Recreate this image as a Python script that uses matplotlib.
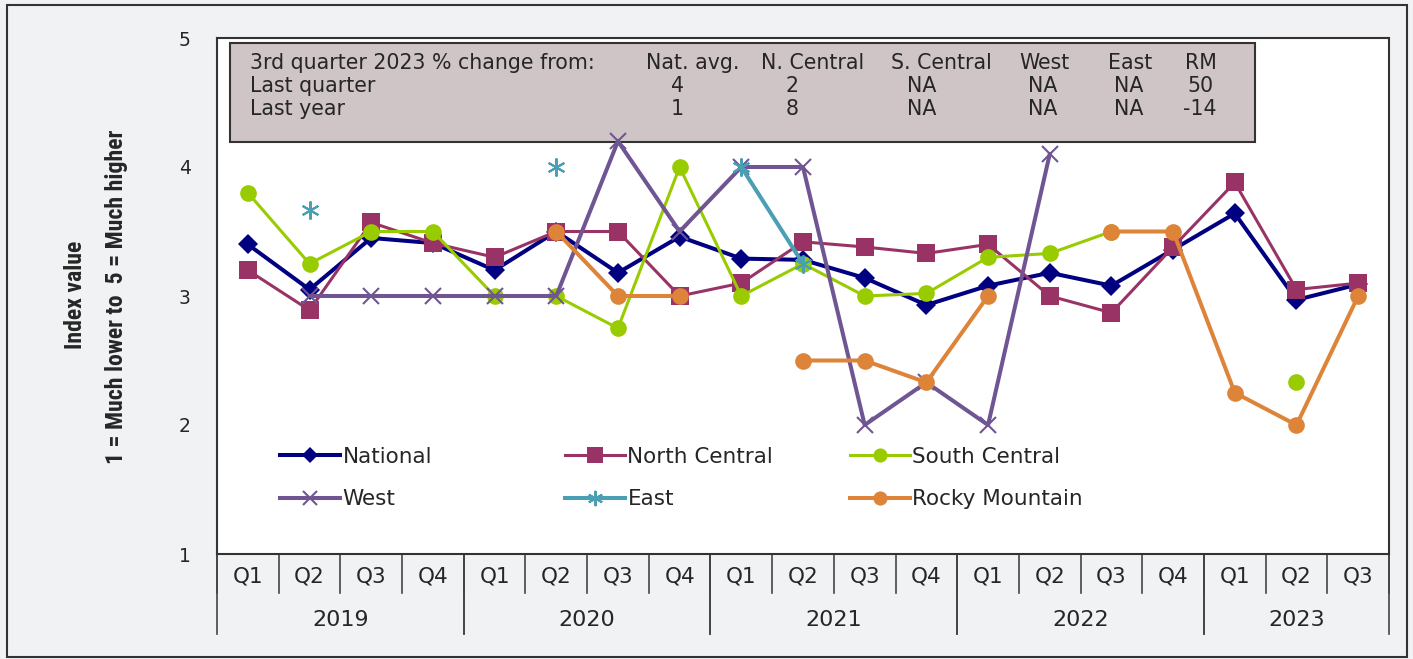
import os
import numpy as np
import matplotlib
matplotlib.use("Agg")
import matplotlib.pyplot as plt
from matplotlib import font_manager
from matplotlib.font_manager import FontProperties
from matplotlib.patches import Rectangle
from matplotlib.transforms import blended_transform_factory

nan = np.nan

# data
years = ['2019', '2020', '2021', '2022', '2023']
quarters_per_year = [4, 4, 4, 4, 3]
quarters = ['Q1', 'Q2', 'Q3', 'Q4'] * 4 + ['Q1', 'Q2', 'Q3']

national = [3.40, 3.05, 3.45, 3.41, 3.20, 3.50, 3.18, 3.46, 3.29, 3.28,
            3.14, 2.93, 3.08, 3.18, 3.08, 3.36, 3.64, 2.97, 3.09]
north_central = [3.20, 2.89, 3.57, 3.41, 3.30, 3.50, 3.50, 3.00, 3.10, 3.42,
                 3.38, 3.33, 3.40, 3.00, 2.87, 3.38, 3.88, 3.05, 3.10]
south_central = [3.80, 3.25, 3.50, 3.50, 3.00, 3.00, 2.75, 4.00, 3.00, 3.25,
                 3.00, 3.02, 3.30, 3.33, 3.50, nan, nan, 2.33, nan]
west = [nan, 3.00, 3.00, 3.00, 3.00, 3.00, 4.20, 3.50, 4.00, 4.00,
        2.00, 2.33, 2.00, 4.10, nan, nan, nan, nan, nan]
east = [nan, 3.67, nan, nan, nan, 4.00, nan, nan, 4.00, 3.25,
        nan, nan, nan, nan, nan, nan, nan, nan, nan]
rocky_mountain = [nan, nan, nan, nan, nan, 3.50, 3.00, 3.00, nan, 2.50,
                  2.50, 2.33, 3.00, nan, 3.50, 3.50, 2.25, 2.00, 3.00]

table_title = '3rd quarter 2023 % change from:'
table_cols = ['Nat. avg.', 'N. Central', 'S. Central', 'West', 'East', 'RM']
table_rows = ['Last quarter', 'Last year']
table_vals = [['4', '2', 'NA', 'NA', 'NA', '50'],
              ['1', '8', 'NA', 'NA', 'NA', '-14']]

# fonts: look for a narrow bold face for the y title
plt.rcParams['font.family'] = 'DejaVu Sans'
files = set(font_manager.findSystemFonts()) | {f.fname for f in font_manager.fontManager.ttflist}
narrow_path = None
for f in sorted(files):
    b = os.path.basename(f).lower()
    if ('narrow' in b or 'condensed' in b) and 'bold' in b and 'italic' not in b \
            and 'oblique' not in b and 'semi' not in b and 'extra' not in b:
        narrow_path = f
        if 'liberation' in b:
            break
if narrow_path:
    ytitle_font = FontProperties(fname=narrow_path)
else:
    ytitle_font = FontProperties(family='Liberation Sans', weight='bold')
txt = '#262626'

W, H = 1413, 659
fig = plt.figure(figsize=(W / 100, H / 100), dpi=100, facecolor='#f1f2f4')
ax = fig.add_axes([217 / W, 1 - 554 / H, (1389 - 217) / W, (554 - 38) / H])
ax.set_facecolor('white')

def ax_xy(px, py):
    return (px - 217) / 1172, (554 - py) / 516

x = np.arange(len(quarters))
series = [
    ('National', national, '#000080', 'D', 10, 2.9),
    ('North Central', north_central, '#993366', 's', 13, 2.2),
    ('South Central', south_central, '#99cc00', 'o', 12, 2.2),
    ('West', west, '#705593', 'x', 12, 2.9),
    ('East', east, '#4a9fb5', (6, 2, 0), 13, 2.9),
    ('Rocky Mountain', rocky_mountain, '#dd8439', 'o', 12, 2.9),
]
handles = {}
for i, (name, vals, col, mk, ms, lw) in enumerate(series):
    thin = mk == 'x' or isinstance(mk, tuple)
    ln, = ax.plot(x, vals, color=col, lw=lw, marker=mk, ms=ms,
                  mew=1.5 if thin else 0, mec=col, mfc=col, zorder=3 + i,
                  label=name)
    handles[name] = ln

ax.set_xlim(-0.5, len(quarters) - 0.5)
ax.set_ylim(1, 5)
ax.set_yticks([1, 2, 3, 4, 5])
ax.tick_params(axis='y', length=0, pad=19, labelsize=13.5, labelcolor=txt)
ax.set_xticks(x, quarters)
ax.tick_params(axis='x', length=0, pad=9, labelsize=15.5, labelcolor=txt)
for s in ax.spines.values():
    s.set_color('#333333')
    s.set_linewidth(1.5)

# two-level category axis
trans = blended_transform_factory(ax.transData, ax.transAxes)
for b in np.arange(-0.5, len(quarters), 1.0):
    ax.plot([b, b], [0, -0.0756], transform=trans, color='#444444', lw=1.2,
            clip_on=False)
start = 0
for yr, n in zip(years, quarters_per_year):
    for b in (start - 0.5, start + n - 0.5):
        ax.plot([b, b], [0, -0.155], transform=trans, color='#444444', lw=1.2,
                clip_on=False)
    ax.text(start + (n - 1) / 2, -0.128, yr, transform=trans, ha='center',
            va='center', fontsize=16, color=txt)
    start += n

# summary table box (under the lines, text above)
bx0, by0 = ax_xy(230, 142)
bx1, by1 = ax_xy(1255, 43)
ax.add_patch(Rectangle((bx0, by0), bx1 - bx0, by1 - by0, transform=ax.transAxes,
                       facecolor='#cfc4c6', edgecolor='#333333', lw=1.5,
                       zorder=2))
tfs = 14.8
row_y = [63, 86, 109]
head_x = [693, 813, 941, 1044, 1130, 1201]
val_x = [677, 792, 922, 1043, 1129, 1200]
tx, ty = ax_xy(250, row_y[0])
ax.text(tx, ty, table_title, transform=ax.transAxes, ha='left', va='center',
        fontsize=tfs, color=txt, zorder=11)
for c, px in zip(table_cols, head_x):
    tx, ty = ax_xy(px, row_y[0])
    ax.text(tx, ty, c, transform=ax.transAxes, ha='center', va='center',
            fontsize=tfs, color=txt, zorder=11)
for r, vals, py in zip(table_rows, table_vals, row_y[1:]):
    tx, ty = ax_xy(250, py)
    ax.text(tx, ty, r, transform=ax.transAxes, ha='left', va='center',
            fontsize=tfs, color=txt, zorder=11)
    for v, px in zip(vals, val_x):
        tx, ty = ax_xy(px, py)
        ax.text(tx, ty, v, transform=ax.transAxes, ha='center', va='center',
                fontsize=tfs, color=txt, zorder=11)

# legend: three columns of two entries
legend_cols = [('National', 'West'), ('North Central', 'East'),
               ('South Central', 'Rocky Mountain')]
for i, (pair, px) in enumerate(zip(legend_cols, [280, 565, 850])):
    lx, ly = ax_xy(px, 478)
    leg = ax.legend([handles[p] for p in pair], pair, loc='center left',
                    bbox_to_anchor=(lx, ly), frameon=False, fontsize=15.5,
                    handlelength=2.8, handletextpad=0.1, labelspacing=1.05,
                    borderpad=0, borderaxespad=0, labelcolor=txt,
                    markerscale=0.85)
    if i < 2:
        ax.add_artist(leg)

# y axis title, two lines, sized so the long line spans ~335 px
t1 = fig.text(75 / W, 1 - 295 / H, 'Index value', rotation=90, ha='center',
              va='center', fontproperties=ytitle_font, color=txt)
t2 = fig.text(117 / W, 1 - 297 / H, '1 = Much lower to  5 = Much higher',
              rotation=90, ha='center', va='center', fontproperties=ytitle_font,
              color=txt)
renderer = fig.canvas.get_renderer()
t2.set_fontsize(12)
span = t2.get_window_extent(renderer).height
fs = 12 * 335 / span
t1.set_fontsize(fs)
t2.set_fontsize(fs)

# outer frame
fig.patches.append(Rectangle((7 / W, 2 / H), 1400 / W, 652 / H,
                             transform=fig.transFigure, fill=False,
                             edgecolor='#333333', lw=1.5))

fig.savefig('out.png', dpi=100, facecolor=fig.get_facecolor())
